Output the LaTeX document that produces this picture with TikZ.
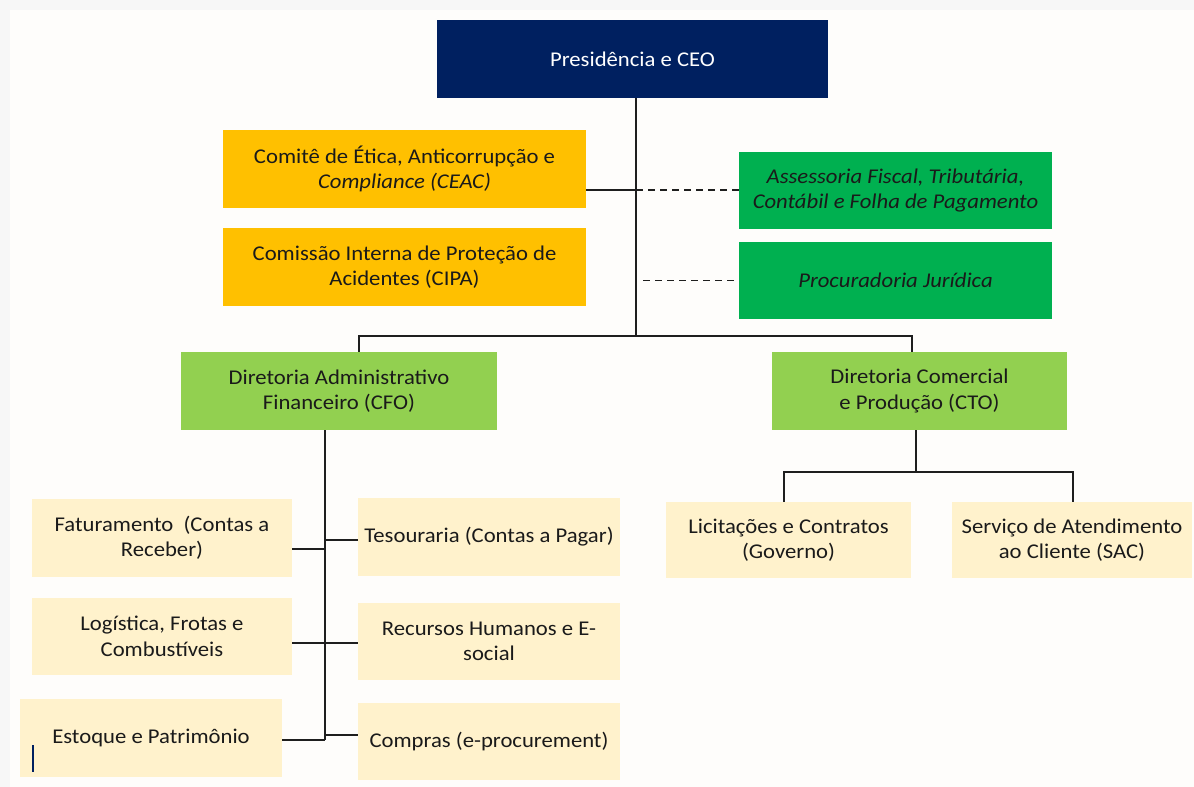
\documentclass[tikz,border=0pt]{standalone}
\usepackage{fontspec}
\setmainfont{Carlito}[FakeStretch=1.08]
\definecolor{navy}{HTML}{002060}
\definecolor{gold}{HTML}{FFC000}
\definecolor{dgreen}{HTML}{00B050}
\definecolor{lgreen}{HTML}{92D050}
\definecolor{cream}{HTML}{FFF2CC}
\definecolor{outerbg}{HTML}{F7F7F7}
\definecolor{innerbg}{HTML}{FEFDFB}
\definecolor{txt}{HTML}{1A1A1A}
\definecolor{lin}{HTML}{1E1E1E}
\begin{document}
\begin{tikzpicture}[x=1pt,y=-1pt,
  box/.style={rectangle, inner sep=2pt, align=center, text=txt,
    font=\fontsize{21}{25.5}\selectfont},
  conn/.style={draw=lin, line width=1.5pt},
  dconn/.style={draw=lin, line width=1.5pt, dash pattern=on 7pt off 5pt}]
\fill[outerbg] (0,0) rectangle (1194,787);
\fill[innerbg] (10,10) rectangle (1194,787);
\useasboundingbox (0,0) rectangle (1194,787);
% nodes
\node[box, fill=navy, text=white, minimum width=391pt, minimum height=78pt] (ceo) at (632.5,59) {Presidência e CEO};
\node[box, fill=gold, minimum width=363pt, minimum height=78pt] (ceac) at (404.5,169) {Comitê de Ética, Anticorrupção e\\\textit{Compliance (CEAC)}};
\node[box, fill=gold, minimum width=363pt, minimum height=78pt] (cipa) at (404.5,267) {Comissão Interna de Proteção de\\Acidentes (CIPA)};
\node[box, fill=dgreen, minimum width=313pt, minimum height=77pt, font=\fontsize{21}{25.5}\selectfont\itshape] (ass) at (895.5,190.5) {Assessoria Fiscal, Tributária,\\Contábil e Folha de Pagamento};
\node[box, fill=dgreen, minimum width=313pt, minimum height=77pt, font=\fontsize{21}{25.5}\selectfont\itshape] (proc) at (895.5,280.5) {Procuradoria Jurídica};
\node[box, fill=lgreen, minimum width=316pt, minimum height=78pt] (cfo) at (339,391) {Diretoria Administrativo\\Financeiro (CFO)};
\node[box, fill=lgreen, minimum width=295pt, minimum height=78pt] (cto) at (919.5,391) {Diretoria Comercial\\e Produção (CTO)};
\node[box, fill=cream, minimum width=260pt, minimum height=78pt] (fat) at (162,538) {Faturamento \ (Contas a\\Receber)};
\node[box, fill=cream, minimum width=260pt, minimum height=77pt] (log) at (162,636.5) {Logística, Frotas e\\Combustíveis};
\node[box, fill=cream, minimum width=262pt, minimum height=78pt] (est) at (151,738) {Estoque e Patrimônio};
\node[box, fill=cream, minimum width=262pt, minimum height=78pt] (tes) at (489,537) {Tesouraria (Contas a Pagar)};
\node[box, fill=cream, minimum width=262pt, minimum height=77pt] (rh) at (489,641.5) {Recursos Humanos e E-\\social};
\node[box, fill=cream, minimum width=262pt, minimum height=77pt] (comp) at (489,741.5) {Compras (e-procurement)};
\node[box, fill=cream, minimum width=245pt, minimum height=76pt] (lic) at (788.5,540) {Licitações e Contratos\\(Governo)};
\node[box, fill=cream, minimum width=240pt, minimum height=76pt] (sac) at (1072,540) {Serviço de Atendimento\\ao Cliente (SAC)};
% small cursor mark
\draw[navy, line width=1.2pt] (33,745) -- (33,772);
% coordinates
\coordinate (ceoX) at (636,0);
\coordinate (bus) at (636,336);
\coordinate (busL) at (359,336);
\coordinate (busR) at (912,336);
\coordinate (ceacY) at (0,190);
\coordinate (procX) at (643,0);
\coordinate (cfoT) at (325,430);
\coordinate (cfoB) at (325,740);
\coordinate (fatY) at (0,549);
\coordinate (tesY) at (0,540);
\coordinate (logY) at (0,643);
\coordinate (compY) at (0,735);
\coordinate (ctoJ) at (916,472);
\coordinate (licX) at (784,0);
\coordinate (sacX) at (1073,0);
% connectors
\draw[conn] (ceo.south -| ceoX) -- (bus);
\draw[conn] (busL |- cfo.north) -- (busL) -- (busR) -- (busR |- cto.north);
\draw[conn] (ceac.east |- ceacY) -- (ceoX |- ceacY);
\draw[dconn] (ceoX |- ceacY) -- (ass.west |- ceacY);
\draw[dconn] (procX |- proc.west) -- (proc.west);
\draw[conn] (cfo.south -| cfoT) -- (cfoB);
\draw[conn] (fat.east |- fatY) -- (cfoT |- fatY);
\draw[conn] (cfoT |- tesY) -- (tes.west |- tesY);
\draw[conn] (log.east |- logY) -- (rh.west |- logY);
\draw[conn] (est.east |- cfoB) -- (cfoB);
\draw[conn] (cfoT |- compY) -- (comp.west |- compY);
\draw[conn] (cto.south -| ctoJ) -- (ctoJ);
\draw[conn] (licX |- lic.north) |- (ctoJ) -| (sacX |- sac.north);
\end{tikzpicture}
\end{document}
